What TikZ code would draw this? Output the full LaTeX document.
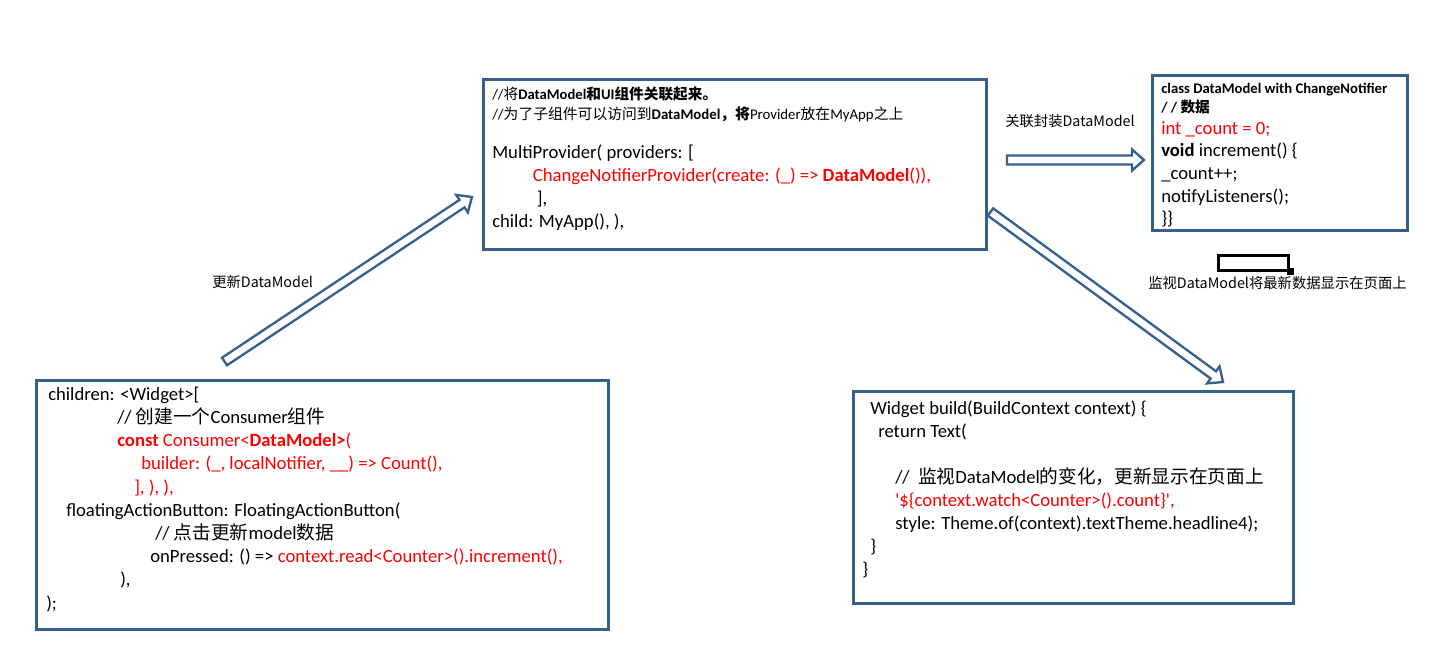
\documentclass[tikz,border=0pt]{standalone}
\usepackage{fontspec}
\setmainfont{Carlito}
\newfontfamily\cjk{Noto Sans CJK SC}
\newcommand\zh[1]{{\cjk #1}}
\usetikzlibrary{calc}
\definecolor{boxblue}{RGB}{56,96,142}
\tikzstyle{codebox}=[draw=boxblue, line width=2.25pt, fill=white, inner sep=0pt]
\tikzstyle{code}=[align=left, inner sep=0pt, anchor=north west, font=\fontsize{14}{17.25}\selectfont]
\tikzstyle{note}=[inner sep=0pt, anchor=west, font=\cjk\fontsize{10.75}{12}\selectfont]
\tikzstyle{hollowarrow}=[draw=boxblue, line width=1.75pt, fill=white, line join=miter]
\newcommand\topstrut{\rule{0pt}{14pt}}
% outlined block arrow from #1 to #2
\newcommand\blockarrow[2]{%
  \coordinate (neck) at ($(#2)!9pt!(#1)$);
  \draw[hollowarrow] ($(#1)!3.4pt!90:(#2)$) -- ($(neck)!3.4pt!90:(#2)$)
    -- ($(neck)!7.9pt!90:(#2)$) -- (#2) -- ($(neck)!7.9pt!-90:(#2)$)
    -- ($(neck)!3.4pt!-90:(#2)$) -- ($(#1)!3.4pt!-90:(#2)$) -- cycle;}

\begin{document}
\begin{tikzpicture}[x=0.75pt,y=-0.75pt]
        \useasboundingbox (0,0) rectangle (1429,656);

        % boxes
        \node[codebox, minimum width=377.25pt, minimum height=127.5pt] (prov) at (735,164.5) {};
        \node[codebox, minimum width=191.25pt, minimum height=116.25pt] (model) at (1280,153) {};
        \node[codebox, minimum width=429pt, minimum height=186.75pt] (cons) at (322.5,505) {};
        \node[codebox, minimum width=330pt, minimum height=159pt] (build) at (1073.5,497.5) {};

        \node[code] (prov-text) at (492,80.3) {%
            {\fontsize{11}{15}\selectfont\topstrut//\zh{将}\textbf{DataModel\zh{和}UI\zh{组件关联起来。}}}\\[-2.25pt]
            {\fontsize{11.1}{15}\selectfont//\zh{为了子组件可以访问到}\textbf{DataModel\zh{，将}}Provider\zh{放在}MyApp\zh{之上}}\\[12pt]
            MultiProvider( providers: [\\
            \hspace*{30.5pt}\textcolor{red}{ChangeNotifierProvider(create: (\_) => \textbf{DataModel}()),}\\
            \hspace*{33.5pt}],\\
            child: MyApp(), ),};

        \node[code, font=\fontsize{14}{17}\selectfont] (model-text) at (1161,74.3) {%
            {\fontsize{11}{13}\selectfont\bfseries\topstrut class DataModel with ChangeNotifier}\\[-2.75pt]
            {\fontsize{11}{13}\selectfont\bfseries / / \zh{数据}}\\[-0.5pt]
            \textcolor{red}{int \_count = 0;}\\
            \textbf{void} increment() \{\\
            \_count++;\\
            notifyListeners();\\
            \}\}};

        \node[code, font=\fontsize{14}{17.4}\selectfont] (cons-text) at (46,381.3) {%
            \topstrut\hspace*{1.5pt}children: <Widget>[\\
            \hspace*{53.25pt}// \zh{创建一个}Consumer\zh{组件}\\
            \hspace*{53.25pt}\textcolor{red}{\textbf{const} Consumer<\textbf{DataModel>}(}\\
            \hspace*{71.25pt}\textcolor{red}{builder: (\_, localNotifier, \_\_) => Count(),}\\
            \hspace*{66pt}\textcolor{red}{], ), ),}\\
            \hspace*{15pt}floatingActionButton: FloatingActionButton(\\
            \hspace*{81.75pt}// \zh{点击更新}model\zh{数据}\\
            \hspace*{78pt}onPressed: () => \textcolor{red}{context.read<Counter>().increment(),}\\
            \hspace*{55.5pt}),\\
            );};

        \node[code] (build-text) at (862,395.3) {%
            \topstrut\hspace*{6pt}Widget build(BuildContext context) \{\\
            \hspace*{12pt}return Text(\\[17.25pt]
            \hspace*{24.75pt}//\ \ \zh{监视}DataModel\zh{的变化，更新显示在页面上}\\
            \hspace*{24.75pt}\textcolor{red}{\textquotesingle\$\{context.watch<Counter>().count\}\textquotesingle,}\\
            \hspace*{24.75pt}style: Theme.of(context).textTheme.headline4);\\
            \hspace*{6pt}\}\\
            \}};

        % empty text box
        \node[draw, line width=2.25pt, minimum width=52.5pt, minimum height=11.25pt, inner sep=0pt] (blank) at (1253.5,263) {};
        \fill ($(blank.south east)+(-3.5,-3.5)$) rectangle ($(blank.south east)+(3.5,3.5)$);

        % labels
        \node[note] (link-label) at (1005,121) {关联封装DataModel};
        \node[note] (watch-label) at (1148,283) {监视DataModel将最新数据显示在页面上};
        \node[note] (upd-label) at (212,282) {更新DataModel};

        % arrows
        \coordinate (upd-s) at (224.5,361.5);
        \coordinate (upd-t) at (472,197);
        \coordinate (link-s) at (1007,160);
        \coordinate (link-t) at (1144,160);
        \coordinate (watch-s) at (990.5,212);
        \coordinate (watch-t) at (1223,382);
        \blockarrow{upd-s}{upd-t}
        \blockarrow{link-s}{link-t}
        \blockarrow{watch-s}{watch-t}
\end{tikzpicture}
\end{document}
